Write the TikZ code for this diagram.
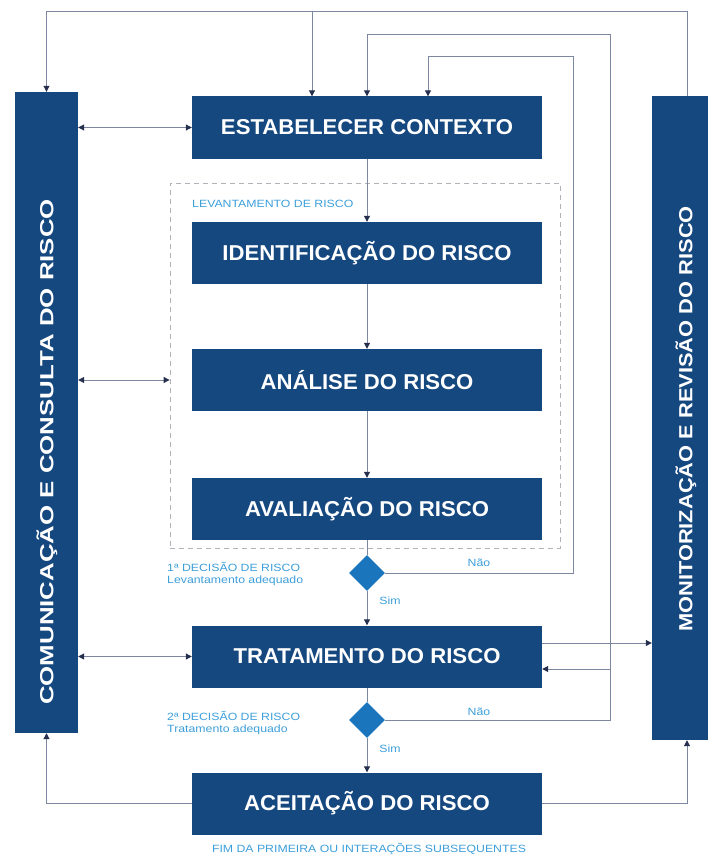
\documentclass[tikz,border=0pt]{standalone}
\usepackage{fontspec}
\setmainfont{Liberation Sans}
\usetikzlibrary{arrows.meta,shapes.geometric}

\definecolor{boxblue}{RGB}{22,72,128}
\definecolor{diamondblue}{RGB}{27,117,188}
\definecolor{labelblue}{RGB}{60,158,218}
\definecolor{linegray}{RGB}{125,135,160}
\definecolor{dashgray}{RGB}{175,178,185}
\definecolor{tipdark}{RGB}{38,48,78}

\tikzset{
  stagebox/.style={fill=boxblue, text=white, inner sep=0pt,
    minimum width=350pt, minimum height=62pt},
  stagetext/.style={text=white, inner sep=0pt, xscale=1.03,
    font=\bfseries\fontsize{21.5}{24}\selectfont},
  sidebar/.style={fill=boxblue, inner sep=0pt},
  sidetext/.style={text=white, inner sep=0pt, rotate=90,
    font=\bfseries\fontsize{19}{22}\selectfont},
  decision/.style={diamond, fill=diamondblue, inner sep=0pt,
    minimum width=36pt, minimum height=36pt},
  conn/.style={draw=linegray, line width=1pt},
  tip/.tip={Triangle[length=6pt,width=6pt,fill=tipdark,color=tipdark]},
  smalllabel/.style={text=labelblue, inner sep=0pt, xscale=1.17,
    font=\fontsize{10.5}{12.5}\selectfont},
  levbox/.style={draw=dashgray, dash pattern=on 5pt off 4pt, line width=0.8pt, inner sep=0pt}
}

\begin{document}
\begin{tikzpicture}[x=1pt,y=-1pt]
\useasboundingbox (0,0) rectangle (707,856);

% side bars
\node[sidebar, minimum width=63pt, minimum height=641pt] (lbar) at (46.5,412.5) {};
\node[sidetext, xscale=1.36] (ltext) at (47,452) {COMUNICAÇÃO E CONSULTA DO RISCO};
\node[sidebar, minimum width=56pt, minimum height=644pt] (rbar) at (680,418) {};
\node[sidetext, xscale=1.15] (rtext) at (686,419) {MONITORIZAÇÃO E REVISÃO DO RISCO};

% dashed frame of the survey stage
\node[levbox, minimum width=390pt, minimum height=365pt] (lev) at (365,365.5) {};
\node[smalllabel, anchor=west] (levtext) at (192,204) {LEVANTAMENTO DE RISCO};

% process stages
\node[stagebox] (ctx)   at (367,127.5) {};
\node[stagebox] (ident) at (367,253)   {};
\node[stagebox] (anal)  at (367,380)   {};
\node[stagebox] (aval)  at (367,509)   {};
\node[stagebox] (trat)  at (367,656.5) {};
\node[stagebox] (acei)  at (367,803.5) {};
\node[stagetext] (ctxt)   at (ctx.center)   {ESTABELECER CONTEXTO};
\node[stagetext] (identt) at (ident.center) {IDENTIFICAÇÃO DO RISCO};
\node[stagetext] (analt)  at (anal.center)  {ANÁLISE DO RISCO};
\node[stagetext] (avalt)  at (aval.center)  {AVALIAÇÃO DO RISCO};
\node[stagetext] (tratt)  at (trat.center)  {TRATAMENTO DO RISCO};
\node[stagetext] (aceit)  at (acei.center)  {ACEITAÇÃO DO RISCO};

% decisions
\node[decision] (d1) at (367,573) {};
\node[decision] (d2) at (367,720) {};

\node[smalllabel, anchor=west, align=left] (d1text) at (167,574)
  {1ª DECISÃO DE RISCO\\Levantamento adequado};
\node[smalllabel, anchor=west, align=left] (d2text) at (167,723)
  {2ª DECISÃO DE RISCO\\Tratamento adequado};
\node[smalllabel] (d1no)  at (479,563) {Não};
\node[smalllabel] (d1yes) at (390,601) {Sim};
\node[smalllabel] (d2no)  at (479,712) {Não};
\node[smalllabel] (d2yes) at (390,749) {Sim};
\node[smalllabel] (fim) at (369,849) {FIM DA PRIMEIRA OU INTERAÇÕES SUBSEQUENTES};

% routing points
\coordinate (top)   at (687,12);
\coordinate (topb)  at (312,12);
\coordinate (loop2) at (610,35);
\coordinate (ret2)  at (610,669);
\coordinate (loop1) at (573,57);
\coordinate (ent1)  at (428,57);
\coordinate (levy)  at (0,380);
\coordinate (moni)  at (0,643);

% main flow
\draw[conn,-tip] (ctx.south) -- (ident.north);
\draw[conn,-tip] (ident.south) -- (anal.north);
\draw[conn,-tip] (anal.south) -- (aval.north);
\draw[conn] (aval.south) -- (d1.north);
\draw[conn,-tip] (d1.south) -- (trat.north);
\draw[conn] (trat.south) -- (d2.north);
\draw[conn,-tip] (d2.south) -- (acei.north);

% feedback loops
\draw[conn,-tip] (rbar.north -| top) -- (top) -| (lbar.north);
\draw[conn,-tip] (topb) -- (topb |- ctx.north);
\draw[conn,-tip] (d2.east) -| (loop2) -| (ctx.north);
\draw[conn,-tip] (ret2) -- (ret2 -| trat.east);
\draw[conn,-tip] (d1.east) -| (loop1) -- (ent1) -- (ent1 |- ctx.north);

% communication links
\draw[conn,tip-tip] (lbar.east |- ctx.west) -- (ctx.west);
\draw[conn,tip-tip] (lbar.east |- levy) -- (lev.west |- levy);
\draw[conn,tip-tip] (lbar.east |- trat.west) -- (trat.west);
\draw[conn,-tip] (trat.east |- moni) -- (rbar.west |- moni);

% closing links
\draw[conn,-tip] (acei.west) -| (lbar.south);
\draw[conn,-tip] (acei.east) -| (rbar.south -| top);
\end{tikzpicture}
\end{document}
